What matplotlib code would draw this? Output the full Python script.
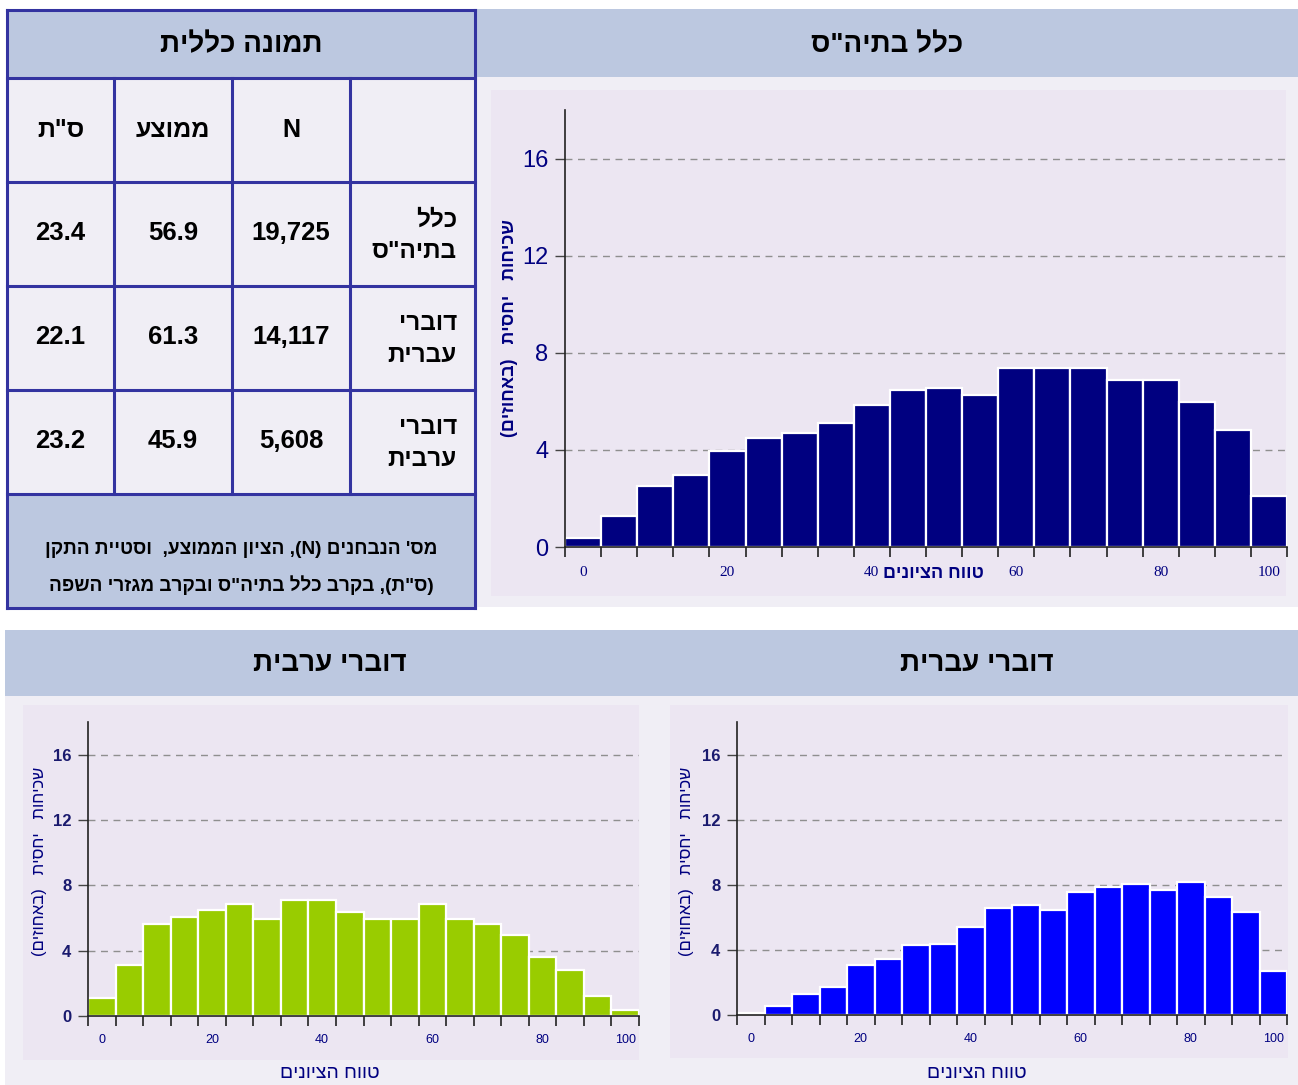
import re
import numpy as np
import matplotlib
matplotlib.use("Agg")
import matplotlib.pyplot as plt
from matplotlib.patches import Rectangle

# ---------------- data ----------------
all_school = [0.38, 1.27, 2.5, 2.98, 3.94, 4.49, 4.69, 5.1, 5.86, 6.47,
              6.55, 6.26, 7.36, 7.36, 7.36, 6.88, 6.88, 5.99, 4.83, 2.09]
arabic = [1.08, 3.12, 5.65, 6.06, 6.47, 6.88, 5.96, 7.08, 7.08, 6.39,
          5.96, 5.96, 6.88, 5.96, 5.65, 4.94, 3.61, 2.84, 1.2, 0.35]
hebrew = [0.1, 0.57, 1.29, 1.7, 3.06, 3.45, 4.27, 4.37, 5.42, 6.55,
          6.73, 6.43, 7.58, 7.86, 8.07, 7.66, 8.17, 7.25, 6.32, 2.73]
xtick_labels = ['0', '20', '40', '60', '80', '100']
xtick_bins = [0, 4, 8, 12, 16, 19]
ytick_values = [0, 4, 8, 12, 16]

table_title = "תמונה כללית"
col_headers = ["N", "ממוצע", 'ס"ת']
row_labels = [["כלל", 'בתיה"ס'], ["דוברי", "עברית"], ["דוברי", "ערבית"]]
n_values = ["19,725", "14,117", "5,608"]
mean_values = ["56.9", "61.3", "45.9"]
sd_values = ["23.4", "22.1", "23.2"]
footnote = ["מס' הנבחנים (N), הציון הממוצע,  וסטיית התקן",
            '(ס"ת), בקרב כלל בתיה"ס ובקרב מגזרי השפה']
title_all = 'כלל בתיה"ס'
title_heb = "דוברי עברית"
title_arab = "דוברי ערבית"
xlabel = "טווח הציונים"
ylabel = "שכיחות   יחסית   (באחוזים)"


def rtl(s):
    tokens = re.findall(r"[A-Za-z0-9.,]+[A-Za-z0-9]|[A-Za-z0-9]|.", s)
    out = []
    for t in reversed(tokens):
        if t == "(":
            t = ")"
        elif t == ")":
            t = "("
        out.append(t)
    return "".join(out)


W, H = 1298, 1085
fig = plt.figure(figsize=(W / 100, H / 100), dpi=100)
fig.patch.set_facecolor("white")

SANS = ["Liberation Sans", "DejaVu Sans"]
NARROW = ["Liberation Sans Narrow", "Liberation Sans", "DejaVu Sans"]
SERIF = ["Liberation Serif", "DejaVu Serif"]

BAND = "#BCC8E0"
PANEL = "#F0EEF5"
PLOTBG = "#ECE6F2"
LINE = "#3333A0"
NAVY = "#000080"

# background axes in pixel coordinates
bg = fig.add_axes([0, 0, 1, 1])
bg.set_xlim(0, W)
bg.set_ylim(H, 0)
bg.axis("off")


def rect(x0, y0, x1, y1, color, **kw):
    bg.add_patch(Rectangle((x0, y0), x1 - x0, y1 - y0, facecolor=color,
                           edgecolor="none", **kw))


# ---- top-right panel ----
rect(476, 9, 1298, 77, BAND)
rect(476, 77, 1298, 607, PANEL)
rect(491, 90, 1286, 596, PLOTBG)
bg.text(887, 45, rtl(title_all), family=SANS, fontsize=20, fontweight="bold",
        ha="center", va="center", color="black")

# ---- bottom panel ----
rect(5, 630, 1298, 696, BAND)
rect(5, 696, 1298, H, PANEL)
rect(23, 705, 639, 1060, PLOTBG)
rect(670, 705, 1288, 1058, PLOTBG)
bg.text(330, 664, rtl(title_arab), family=SANS, fontsize=20, fontweight="bold",
        ha="center", va="center", color="black")
bg.text(977, 664, rtl(title_heb), family=SANS, fontsize=20, fontweight="bold",
        ha="center", va="center", color="black")
bg.text(330, 1073, rtl(xlabel), family=SANS, fontsize=14, ha="center",
        va="center", color=NAVY)
bg.text(977, 1073, rtl(xlabel), family=SANS, fontsize=14, ha="center",
        va="center", color=NAVY)

# ---- table ----
tx = [7, 114, 232, 350, 475]
ty = [10, 78, 182, 286, 390, 494, 608]
rect(tx[0], ty[0], tx[-1], ty[1], BAND)
rect(tx[0], ty[1], tx[-1], ty[5], PANEL)
rect(tx[0], ty[5], tx[-1], ty[6], BAND)
lw = 2.2
for y in ty:
    bg.plot([tx[0], tx[-1]], [y, y], color=LINE, lw=lw, solid_capstyle="projecting")
for x in [tx[0], tx[-1]]:
    bg.plot([x, x], [ty[0], ty[-1]], color=LINE, lw=lw, solid_capstyle="projecting")
for x in tx[1:-1]:
    bg.plot([x, x], [ty[1], ty[5]], color=LINE, lw=lw)

bg.text((tx[0] + tx[-1]) / 2, 45, rtl(table_title), family=SANS, fontsize=20,
        fontweight="bold", ha="center", va="center", color="black")
# headers: columns right-to-left: label | N | mean | sd
col_centers = [(tx[2] + tx[3]) / 2, (tx[1] + tx[2]) / 2, (tx[0] + tx[1]) / 2]
for cx, h in zip(col_centers, col_headers):
    bg.text(cx, 130, rtl(h), family=SANS, fontsize=18, fontweight="bold",
            ha="center", va="center", color="black")
for i in range(3):
    cy = (ty[2 + i] + ty[3 + i]) / 2
    for cx, v in zip(col_centers, [n_values[i], mean_values[i], sd_values[i]]):
        bg.text(cx, cy - 1, v, family=SANS, fontsize=18.5, fontweight="bold",
                ha="center", va="center", color="black")
    bg.text(457, cy - 14, rtl(row_labels[i][0]), family=SANS, fontsize=17.5,
            fontweight="bold", ha="right", va="center", color="black")
    bg.text(457, cy + 17, rtl(row_labels[i][1]), family=SANS, fontsize=17.5,
            fontweight="bold", ha="right", va="center", color="black")
bg.text(241, 549, rtl(footnote[0]), family=SANS, fontsize=13.7, fontweight="bold",
        ha="center", va="center", color="black")
bg.text(241, 585, rtl(footnote[1]), family=SANS, fontsize=13.7, fontweight="bold",
        ha="center", va="center", color="black")


def px_axes(x0, y0, x1, y1):
    return fig.add_axes([x0 / W, 1 - y1 / H, (x1 - x0) / W, (y1 - y0) / H])


def hist_axes(ax, values, color, big):
    n = len(values)
    x = np.arange(n)
    ax.set_facecolor("none")
    for yv in ytick_values[1:]:
        ax.axhline(yv, color="#8f8f8f", lw=1.0, ls=(0, (5, 4)), zorder=0)
    ax.bar(x, values, width=1.0, color=color, edgecolor="white", linewidth=1.6,
           zorder=2)
    ax.set_xlim(-0.5, n - 0.5)
    ax.set_ylim(0, 18)
    for s in ["top", "right"]:
        ax.spines[s].set_visible(False)
    ax.spines["left"].set_color("#222222")
    ax.spines["bottom"].set_color("#222222")
    ax.spines["left"].set_linewidth(1.2)
    ax.spines["bottom"].set_linewidth(1.2)
    ax.set_yticks(ytick_values)
    ax.set_xticks(xtick_bins)
    ax.set_xticks(np.arange(n + 1) - 0.5, minor=True)
    ax.tick_params(axis="x", which="major", length=0)
    ax.tick_params(axis="x", which="minor", length=7, width=1.2, color="#222222")
    ax.tick_params(axis="y", length=7, width=1.0, color="#444444")
    if big:
        ax.set_xticklabels(xtick_labels, family=SERIF, fontsize=11, color=NAVY)
        ax.tick_params(axis="x", which="major", pad=14)
        ax.set_yticklabels([str(v) for v in ytick_values], family=NARROW,
                           fontsize=17, color=NAVY)
        ax.tick_params(axis="y", pad=5)
    else:
        ax.set_xticklabels(xtick_labels, family=SANS, fontsize=9, color=NAVY)
        ax.tick_params(axis="x", which="major", pad=13)
        ax.set_yticklabels([str(v) for v in ytick_values], family=SANS,
                           fontsize=12, fontweight="bold", color="#1a1a6e")
        ax.tick_params(axis="y", pad=5)


# top chart
ax1 = px_axes(565, 110, 1287, 547)
hist_axes(ax1, all_school, "#000080", True)
bg.text(933, 574, rtl(xlabel), family=SANS, fontsize=13, fontweight="bold",
        ha="center", va="center", color=NAVY, zorder=5)
bg.text(510, 328, rtl(ylabel), family=SANS, fontsize=13, fontweight="bold",
        rotation=90, ha="center", va="center", color=NAVY)

# bottom-left (arabic)
ax2 = px_axes(88, 722, 639, 1016)
hist_axes(ax2, arabic, "#99CC00", False)
bg.text(40, 861, rtl(ylabel), family=SANS, fontsize=12, rotation=90,
        ha="center", va="center", color=NAVY)

# bottom-right (hebrew)
ax3 = px_axes(737, 722, 1287, 1015)
hist_axes(ax3, hebrew, "#0000FF", False)
bg.text(687, 861, rtl(ylabel), family=SANS, fontsize=12, rotation=90,
        ha="center", va="center", color=NAVY)

fig.savefig("out.png", dpi=100, facecolor="white")
